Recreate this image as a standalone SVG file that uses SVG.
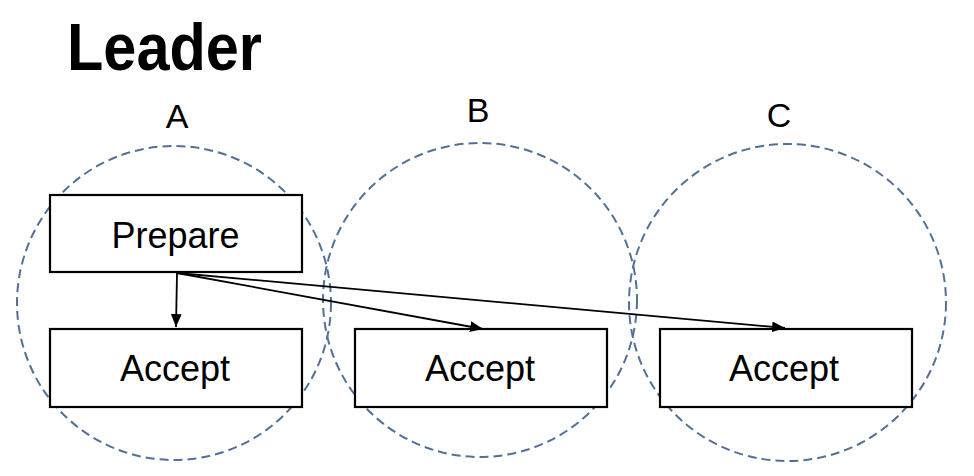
<svg xmlns="http://www.w3.org/2000/svg" width="974" height="476" viewBox="0 0 974 476">
  <style>
    .zone { fill: none; stroke: #52709A; stroke-width: 2; stroke-dasharray: 9 5; }
    .box { fill: #FFFFFF; stroke: #000000; stroke-width: 2.2; }
    .lbl { font-family: "Liberation Sans", Arial, sans-serif; font-size: 36px; fill: #000000; text-anchor: middle; }
    .zl { font-family: "Liberation Sans", Arial, sans-serif; font-size: 34px; fill: #000000; text-anchor: middle; }
    .title { font-family: "Liberation Sans", Arial, sans-serif; font-size: 66px; font-weight: bold; fill: #000000; }
    .conn { fill: none; stroke: #000000; stroke-width: 1.8; }
  </style>
  <defs>
    <marker id="arr" viewBox="0 0 12 10" refX="12" refY="5" markerWidth="7.2" markerHeight="6" markerUnits="strokeWidth" orient="auto">
      <path d="M0,0 L12,5 L0,10 Z" fill="#000000"/>
    </marker>
  </defs>
  <rect width="974" height="476" fill="#FFFFFF"/>
  <text class="title" x="67" y="70" textLength="195" lengthAdjust="spacingAndGlyphs">Leader</text>

  <g id="zoneA">
    <circle class="zone" cx="174" cy="303" r="157"/>
    <text class="zl" x="177" y="128">A</text>
  </g>
  <g id="zoneB">
    <circle class="zone" cx="480" cy="300" r="157"/>
    <text class="zl" x="478" y="122">B</text>
  </g>
  <g id="zoneC">
    <circle class="zone" cx="787.5" cy="302.5" r="158.5"/>
    <text class="zl" x="779" y="127">C</text>
  </g>

  <g id="prepareA">
    <rect class="box" x="50" y="195" width="252" height="77"/>
    <text class="lbl" x="175.5" y="248">Prepare</text>
  </g>
  <g id="acceptA">
    <rect class="box" x="50" y="329" width="252" height="78"/>
    <text class="lbl" x="175" y="381">Accept</text>
  </g>
  <g id="acceptB">
    <rect class="box" x="355" y="329" width="252" height="78"/>
    <text class="lbl" x="480" y="381">Accept</text>
  </g>
  <g id="acceptC">
    <rect class="box" x="660" y="329" width="252" height="78"/>
    <text class="lbl" x="784" y="381">Accept</text>
  </g>

  <g id="connectors">
    <line class="conn" x1="177" y1="273" x2="176" y2="327" marker-end="url(#arr)"/>
    <line class="conn" x1="177" y1="273" x2="483" y2="329" marker-end="url(#arr)"/>
    <line class="conn" x1="177" y1="273" x2="785" y2="328" marker-end="url(#arr)"/>
  </g>
</svg>
